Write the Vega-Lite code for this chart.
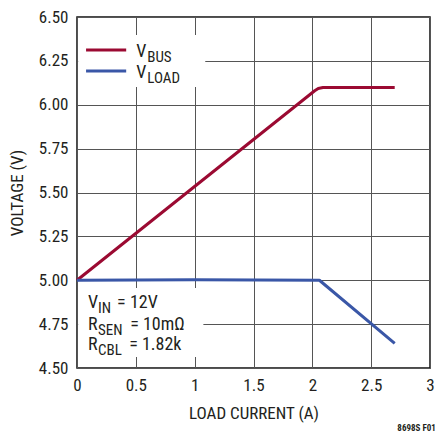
{
  "$schema": "https://vega.github.io/schema/vega-lite/v6.json",
  "width": 353,
  "height": 351,
  "autosize": {"type": "none"},
  "padding": {"left": 77, "top": 17, "right": 5, "bottom": 68},
  "background": "white",
  "config": {
    "view": {"stroke": "#111", "strokeWidth": 1.5},
    "font": "Roboto Condensed, DejaVu Sans Condensed, Roboto",
    "axis": {
      "domain": false,
      "ticks": false,
      "labelFlush": false,
      "gridColor": "#555",
      "gridOpacity": 1,
      "gridWidth": 1,
      "labelFont": "Roboto Condensed, DejaVu Sans Condensed, Roboto",
      "labelFontSize": 17,
      "labelColor": "#231f20",
      "titleFont": "Roboto Condensed, DejaVu Sans Condensed, Roboto",
      "titleFontSize": 17,
      "titleFontWeight": "normal",
      "titleColor": "#231f20"
    }
  },
  "datasets": {
    "curves": [
      {"series": "VBUS", "x": 0.0, "y": 5.0},
      {"series": "VBUS", "x": 2.02, "y": 6.08},
      {"series": "VBUS", "x": 2.05, "y": 6.093},
      {"series": "VBUS", "x": 2.09, "y": 6.098},
      {"series": "VBUS", "x": 2.7, "y": 6.098},
      {"series": "VLOAD", "x": 0.0, "y": 5.0},
      {"series": "VLOAD", "x": 1.0, "y": 5.003},
      {"series": "VLOAD", "x": 2.06, "y": 5.0},
      {"series": "VLOAD", "x": 2.7, "y": 4.64}
    ],
    "boxes": [
      {"x": 0.01, "x2": 1.09, "y": 6.397, "y2": 6.101},
      {"x": 0.01, "x2": 1.074, "y": 4.956, "y2": 4.563}
    ],
    "keys": [
      {"series": "VBUS", "x": 0.077, "x2": 0.418, "y": 6.312},
      {"series": "VLOAD", "x": 0.077, "x2": 0.418, "y": 6.192}
    ],
    "mainText": [
      {"x": 0.503, "y": 6.272, "t": "V"},
      {"x": 0.503, "y": 6.152, "t": "V"},
      {"x": 0.094, "y": 4.842, "t": "V"},
      {"x": 0.094, "y": 4.717, "t": "R"},
      {"x": 0.094, "y": 4.603, "t": "R"},
      {"x": 0.341, "y": 4.842, "t": "= 12V"},
      {"x": 0.452, "y": 4.717, "t": "= 10mΩ"},
      {"x": 0.443, "y": 4.603, "t": "= 1.82k"}
    ],
    "subText": [
      {"x": 0.597, "y": 6.244, "t": "BUS"},
      {"x": 0.597, "y": 6.124, "t": "LOAD"},
      {"x": 0.179, "y": 4.814, "t": "IN"},
      {"x": 0.179, "y": 4.688, "t": "SEN"},
      {"x": 0.179, "y": 4.574, "t": "CBL"}
    ],
    "foot": [
      {"x": 3.05, "y": 4.16, "t": "8698S F01"}
    ]
  },
  "layer": [
    {
      "data": {"name": "boxes"},
      "mark": {"type": "rect", "fill": "white", "stroke": null},
      "encoding": {
        "x": {"field": "x", "type": "quantitative",
              "scale": {"domain": [0, 3], "nice": false, "zero": false},
              "axis": {"title": "LOAD CURRENT (A)", "values": [0, 0.5, 1, 1.5, 2, 2.5, 3], "format": "~g", "labelPadding": 9, "titlePadding": 12, "grid": true}},
        "x2": {"field": "x2"},
        "y": {"field": "y", "type": "quantitative",
              "scale": {"domain": [4.5, 6.5], "nice": false, "zero": false},
              "axis": {"title": "VOLTAGE (V)", "values": [4.5, 4.75, 5, 5.25, 5.5, 5.75, 6, 6.25, 6.5], "format": ".2f", "labelPadding": 9, "titlePadding": 12, "grid": true}},
        "y2": {"field": "y2"}
      }
    },
    {
      "data": {"name": "curves"},
      "mark": {"type": "line", "strokeWidth": 3, "strokeCap": "butt", "strokeJoin": "round"},
      "encoding": {
        "x": {"field": "x", "type": "quantitative"},
        "y": {"field": "y", "type": "quantitative"},
        "color": {"field": "series", "type": "nominal", "scale": {"domain": ["VBUS", "VLOAD"], "range": ["#9b0a32", "#3a57a7"]}, "legend": null}
      }
    },
    {
      "data": {"name": "keys"},
      "mark": {"type": "rule", "strokeWidth": 3},
      "encoding": {
        "x": {"field": "x", "type": "quantitative"},
        "x2": {"field": "x2"},
        "y": {"field": "y", "type": "quantitative"},
        "color": {"field": "series", "type": "nominal", "legend": null}
      }
    },
    {
      "data": {"name": "mainText"},
      "mark": {"type": "text", "align": "left", "baseline": "alphabetic", "fontSize": 18, "color": "#231f20"},
      "encoding": {
        "x": {"field": "x", "type": "quantitative"},
        "y": {"field": "y", "type": "quantitative"},
        "text": {"field": "t"}
      }
    },
    {
      "data": {"name": "subText"},
      "mark": {"type": "text", "align": "left", "baseline": "alphabetic", "fontSize": 15, "color": "#231f20"},
      "encoding": {
        "x": {"field": "x", "type": "quantitative"},
        "y": {"field": "y", "type": "quantitative"},
        "text": {"field": "t"}
      }
    },
    {
      "data": {"name": "foot"},
      "mark": {"type": "text", "align": "right", "baseline": "middle", "fontSize": 9, "fontWeight": "bold", "color": "#231f20", "clip": false},
      "encoding": {
        "x": {"field": "x", "type": "quantitative"},
        "y": {"field": "y", "type": "quantitative"},
        "text": {"field": "t"}
      }
    }
  ]
}
